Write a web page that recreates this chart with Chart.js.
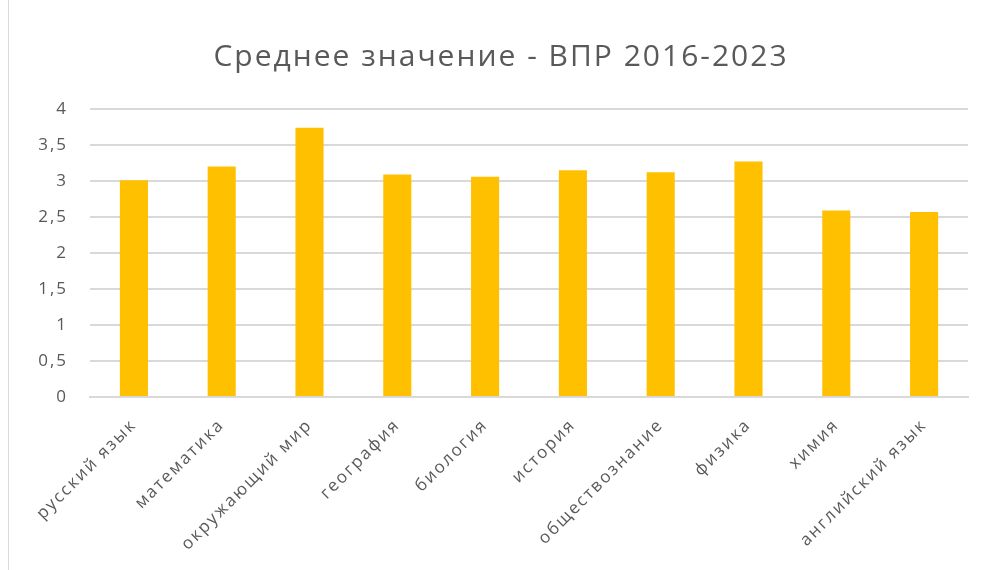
<!DOCTYPE html>
<html>
<head>
<meta charset="utf-8">
<script src="https://cdn.jsdelivr.net/npm/chart.js@4/dist/chart.umd.min.js"></script>
<style>
    html, body { margin: 0; padding: 0; background: #ffffff; }
    #wrap { position: relative; width: 987px; height: 570px; }
    #frame { position: absolute; left: 8px; top: 0; width: 0; height: 570px; border-left: 1px solid #d9d9d9; }
    canvas { position: absolute; left: 0; top: 0; }
</style>
</head>
<body>
<div id="wrap">
    <div id="frame"></div>
    <canvas id="chart" width="987" height="570"></canvas>
</div>
<script>
// Subjects (categories)
const subjects = [
    'русский язык', 'математика', 'окружающий мир', 'география', 'биология',
    'история', 'обществознание', 'физика', 'химия', 'английский язык'
];

// Average score per subject
const averageScores = [3.01, 3.20, 3.74, 3.09, 3.06, 3.15, 3.12, 3.27, 2.59, 2.57];

// Y axis ticks
const yTicks = [0, 0.5, 1, 1.5, 2, 2.5, 3, 3.5, 4];

const chartTitle = 'Среднее значение - ВПР 2016-2023';

const TEXT_COLOR = '#595959';
const GRID_COLOR = '#d9d9d9';
const BAR_COLOR = '#ffc000';
const FONT = '"Open Sans", "DejaVu Sans", sans-serif';

// Wider letter spacing, closer to the original office font.
// Resizing the canvas resets the context, so set it again before layout and draw.
function setSpacing(chart) {
    if ('letterSpacing' in chart.ctx) chart.ctx.letterSpacing = '2px';
}
const letterSpacingPlugin = {
    id: 'letterSpacing',
    beforeUpdate: setSpacing,
    beforeLayout: setSpacing,
    beforeDraw: setSpacing
};

new Chart(document.getElementById('chart'), {
    type: 'bar',
    plugins: [letterSpacingPlugin],
    data: {
        labels: subjects,
        datasets: [{
            label: 'Среднее значение',
            data: averageScores,
            backgroundColor: BAR_COLOR,
            borderWidth: 0,
            categoryPercentage: 1,
            barPercentage: 0.32
        }]
    },
    options: {
        responsive: false,
        animation: false,
        layout: { padding: { left: 34, right: 19, top: 0, bottom: 0 } },
        plugins: {
            legend: { display: false },
            tooltip: { enabled: false },
            title: {
                display: true,
                text: chartTitle,
                color: TEXT_COLOR,
                font: { family: FONT, size: 30, weight: 'normal' },
                padding: { top: 39, bottom: 34 }
            }
        },
        scales: {
            x: {
                grid: { display: false, drawTicks: false },
                border: { display: true, color: GRID_COLOR, width: 2 },
                ticks: {
                    color: TEXT_COLOR,
                    font: { family: FONT, size: 17 },
                    maxRotation: 45,
                    minRotation: 45,
                    autoSkip: false,
                    padding: 18
                },
                afterFit: function(scale) { scale.height = 173; }
            },
            y: {
                min: 0,
                max: 4,
                grid: { color: GRID_COLOR, lineWidth: 2, drawTicks: false },
                border: { display: false },
                afterBuildTicks: function(scale) {
                    scale.ticks = yTicks.map(v => ({ value: v }));
                },
                ticks: {
                    color: TEXT_COLOR,
                    font: { family: FONT, size: 17 },
                    padding: 22,
                    callback: v => String(v).replace('.', ',')
                },
                afterFit: function(scale) { scale.width = 56; }
            }
        }
    }
});
</script>
</body>
</html>
